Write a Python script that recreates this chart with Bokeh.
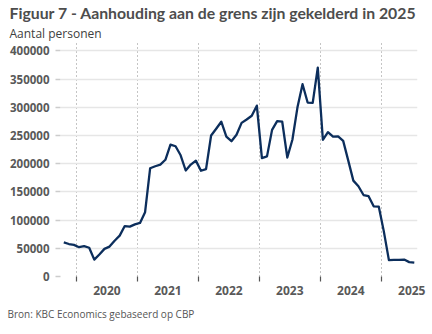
from bokeh.plotting import figure
from bokeh.models import Range1d, FixedTicker, Title, ColumnDataSource
from bokeh.embed import file_html
from bokeh.resources import INLINE

# Monthly series, Jul 2019 - Apr 2025
months = [
    "2019-07", "2019-08", "2019-09", "2019-10", "2019-11", "2019-12",
    "2020-01", "2020-02", "2020-03", "2020-04", "2020-05", "2020-06",
    "2020-07", "2020-08", "2020-09", "2020-10", "2020-11", "2020-12",
    "2021-01", "2021-02", "2021-03", "2021-04", "2021-05", "2021-06",
    "2021-07", "2021-08", "2021-09", "2021-10", "2021-11", "2021-12",
    "2022-01", "2022-02", "2022-03", "2022-04", "2022-05", "2022-06",
    "2022-07", "2022-08", "2022-09", "2022-10", "2022-11", "2022-12",
    "2023-01", "2023-02", "2023-03", "2023-04", "2023-05", "2023-06",
    "2023-07", "2023-08", "2023-09", "2023-10", "2023-11", "2023-12",
    "2024-01", "2024-02", "2024-03", "2024-04", "2024-05", "2024-06",
    "2024-07", "2024-08", "2024-09", "2024-10", "2024-11", "2024-12",
    "2025-01", "2025-02", "2025-03", "2025-04",
]
personen = [
    60600, 57600, 56000, 52000, 54000, 51000,
    30000, 39000, 49000, 53000, 63500, 72500,
    89500, 88500, 92500, 95000, 114000, 192000,
    195500, 198500, 207000, 234000, 231000, 215000,
    188000, 198500, 205500, 187500, 190500, 250000,
    262000, 274500, 248000, 240000, 251500, 272500,
    278500, 285000, 303000, 210000, 213000, 260000,
    275500, 274500, 211000, 242500, 300000, 341000,
    308500, 308000, 370500, 242500, 256000, 248000,
    248500, 240500, 205500, 170000, 160000, 144500,
    142500, 124500, 124000, 80000, 29000, 29500,
    29500, 30000, 25500, 24500,
]
year_labels = ["2020", "2021", "2022", "2023", "2024", "2025"]
y_ticks = [0, 50000, 100000, 150000, 200000, 250000, 300000, 350000, 400000]

title_text = "Figuur 7 - Aanhouding aan de grens zijn gekelderd in 2025"
subtitle_text = "Aantal personen"
source_text = "Bron: KBC Economics gebaseerd op CBP"

idx = list(range(len(months)))
# fiscal-year boundaries (between September and October)
first_oct = months.index("2019-10")
boundaries = [first_oct - 0.5 + 12 * i for i in range(len(year_labels))]
centers = [b + 6 for b in boundaries]

src = ColumnDataSource(dict(x=idx, y=personen, m=months))

FONT = "Open Sans"
p = figure(width=432, height=334, output_backend="svg", toolbar_location=None,
           x_range=Range1d(-0.65, 69.63), y_range=Range1d(0, 415000),
           min_border_left=60, min_border_right=15, min_border_top=42,
           min_border_bottom=58, outline_line_color=None,
           background_fill_color="white", border_fill_color="white")

# main title (outer) and subtitle (inner)
p.title.text = title_text
p.title.text_font = "Lato"
p.title.text_font_style = "bold"
p.title.text_font_size = "15.8px"
p.title.text_color = "#4d4d4d"
p.title.align = "left"
p.title.offset = -51
p.title.standoff = 0

p.add_layout(Title(text=subtitle_text, text_font=FONT, text_font_style="normal",
                   text_font_size="12px", text_color="#404040", align="left",
                   offset=-51, standoff=2), "above")

p.add_layout(Title(text=source_text, text_font=FONT, text_font_style="normal",
                   text_font_size="10px", text_color="#555555", align="left",
                   offset=-53, standoff=15), "below")

p.line("x", "y", source=src, line_color="#0c2e5c", line_width=2.3,
       line_join="round")

# y axis
p.yaxis.ticker = FixedTicker(ticks=y_ticks)
p.yaxis.formatter.use_scientific = False
p.yaxis.axis_line_color = None
p.yaxis.major_tick_line_color = "#cccccc"
p.yaxis.major_tick_line_width = 1.5
p.yaxis.major_tick_out = 5
p.yaxis.major_tick_in = 0
p.yaxis.minor_tick_line_color = None
p.yaxis.major_label_text_font = FONT
p.yaxis.major_label_text_font_style = "bold"
p.yaxis.major_label_text_font_size = "11.5px"
p.yaxis.major_label_text_color = "#595959"
p.yaxis.major_label_standoff = 6

# x axis: labels centred in each fiscal year, ticks at boundaries
p.xaxis.ticker = FixedTicker(ticks=centers, minor_ticks=boundaries)
p.xaxis.major_label_overrides = {c: l for c, l in zip(centers, year_labels)}
p.xaxis.axis_line_color = None
p.xaxis.major_tick_line_color = None
p.xaxis.minor_tick_line_color = "#555555"
p.xaxis.minor_tick_line_width = 1.2
p.xaxis.minor_tick_out = 5
p.xaxis.minor_tick_in = 0
p.xaxis.major_label_text_font = FONT
p.xaxis.major_label_text_font_style = "bold"
p.xaxis.major_label_text_font_size = "12px"
p.xaxis.major_label_text_color = "#595959"
p.xaxis.major_label_standoff = 3

# grids
p.ygrid.ticker = FixedTicker(ticks=y_ticks)
p.ygrid.grid_line_color = "#e6e6e6"
p.ygrid.grid_line_width = 1.5
p.xgrid.ticker = FixedTicker(ticks=boundaries)
p.xgrid.grid_line_color = "#8a8a8a"
p.xgrid.grid_line_dash = "1 3"
p.xgrid.grid_line_width = 1

open("out.html", "w").write(file_html(p, INLINE))
